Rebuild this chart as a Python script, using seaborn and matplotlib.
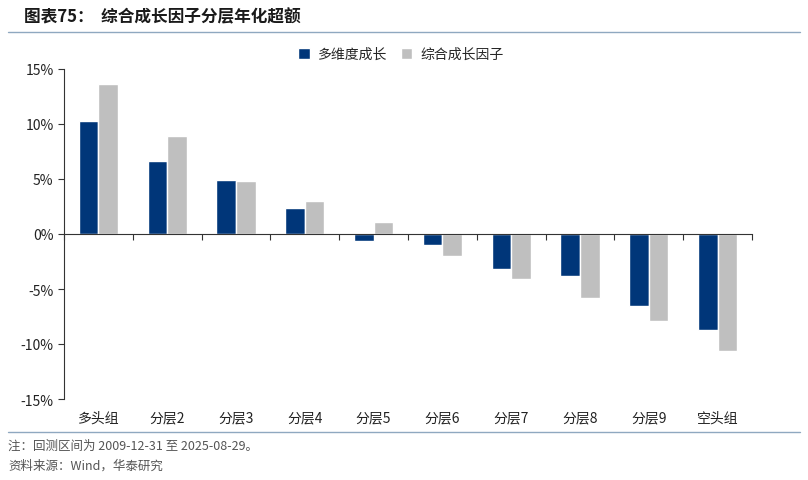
import numpy as np
import pandas as pd
import matplotlib
matplotlib.use('Agg')
import matplotlib.pyplot as plt
import matplotlib.transforms as mtransforms
import seaborn as sns

categories = ['多头组', '分层2', '分层3', '分层4', '分层5', '分层6', '分层7', '分层8', '分层9', '空头组']
multi_dim = [10.3, 6.6, 4.9, 2.4, -0.6, -1.0, -3.2, -3.8, -6.5, -8.7]
composite = [13.6, 8.9, 4.8, 3.0, 1.1, -2.0, -4.1, -5.8, -7.9, -10.6]
series_names = ['多维度成长', '综合成长因子']
yticks = [15, 10, 5, 0, -5, -10, -15]

sns.set_style('white')
plt.rcParams['font.family'] = ['Noto Sans CJK SC', 'DejaVu Sans']
plt.rcParams['axes.unicode_minus'] = False

df = pd.DataFrame({
    'cat': categories * 2,
    'series': [series_names[0]] * len(categories) + [series_names[1]] * len(categories),
    'val': multi_dim + composite,
})

fig = plt.figure(figsize=(8.08, 4.81), dpi=100)
ax = fig.add_axes([64 / 808, 1 - 400 / 481, (752 - 64) / 808, 330 / 481])

sns.barplot(data=df, x='cat', y='val', hue='series', palette=['#003679', '#BFBFBF'],
            width=0.57, saturation=1, ax=ax, legend=True)

ax.set_ylim(-15, 15)
ax.set_xlim(-0.5, len(categories) - 0.5)
ax.set_yticks(yticks)
ax.set_yticklabels([f'{t}%' for t in yticks], fontsize=10, color='#222222')
ax.set_xlabel('')
ax.set_ylabel('')

for s in ['top', 'right']:
    ax.spines[s].set_visible(False)
ax.spines['left'].set_color('#333333')
ax.spines['left'].set_linewidth(0.8)
ax.spines['bottom'].set_position(('data', 0))
ax.spines['bottom'].set_color('#333333')
ax.spines['bottom'].set_linewidth(0.8)
ax.tick_params(axis='y', direction='out', length=4, width=0.8, color='#333333', left=True)

# ticks between categories on the zero line, labels at bottom of plot
ax.set_xticks(np.arange(len(categories) + 1) - 0.5)
ax.set_xticklabels([])
ax.tick_params(axis='x', direction='out', length=4, width=0.8, color='#333333', bottom=True)
trans = mtransforms.blended_transform_factory(ax.transData, ax.transAxes)
for i, c in enumerate(categories):
    ax.text(i, -0.055, c, transform=trans, ha='center', va='center', fontsize=10, color='#222222')

leg = ax.legend(loc='center', bbox_to_anchor=(0.49, 1.045), ncol=2, frameon=False,
                fontsize=10, handlelength=0.8, handleheight=0.8, columnspacing=1.0, handletextpad=0.6)

fig.text(24 / 808, 1 - 17 / 481, '图表75：  综合成长因子分层年化超额', fontsize=12, fontweight='bold',
         color='#1a1a1a', va='center', ha='left')
fig.add_artist(plt.Line2D([8 / 808, 800 / 808], [1 - 33 / 481, 1 - 33 / 481], color='#8fa8c0', linewidth=1))
fig.add_artist(plt.Line2D([8 / 808, 800 / 808], [1 - 433 / 481, 1 - 433 / 481], color='#8fa8c0', linewidth=1))
fig.text(8 / 808, 1 - 446 / 481, '注：回测区间为 2009-12-31 至 2025-08-29。', fontsize=9, color='#555555', va='center')
fig.text(8 / 808, 1 - 466 / 481, '资料来源：Wind，华泰研究', fontsize=9, color='#555555', va='center')

fig.savefig('out.png', dpi=100)
